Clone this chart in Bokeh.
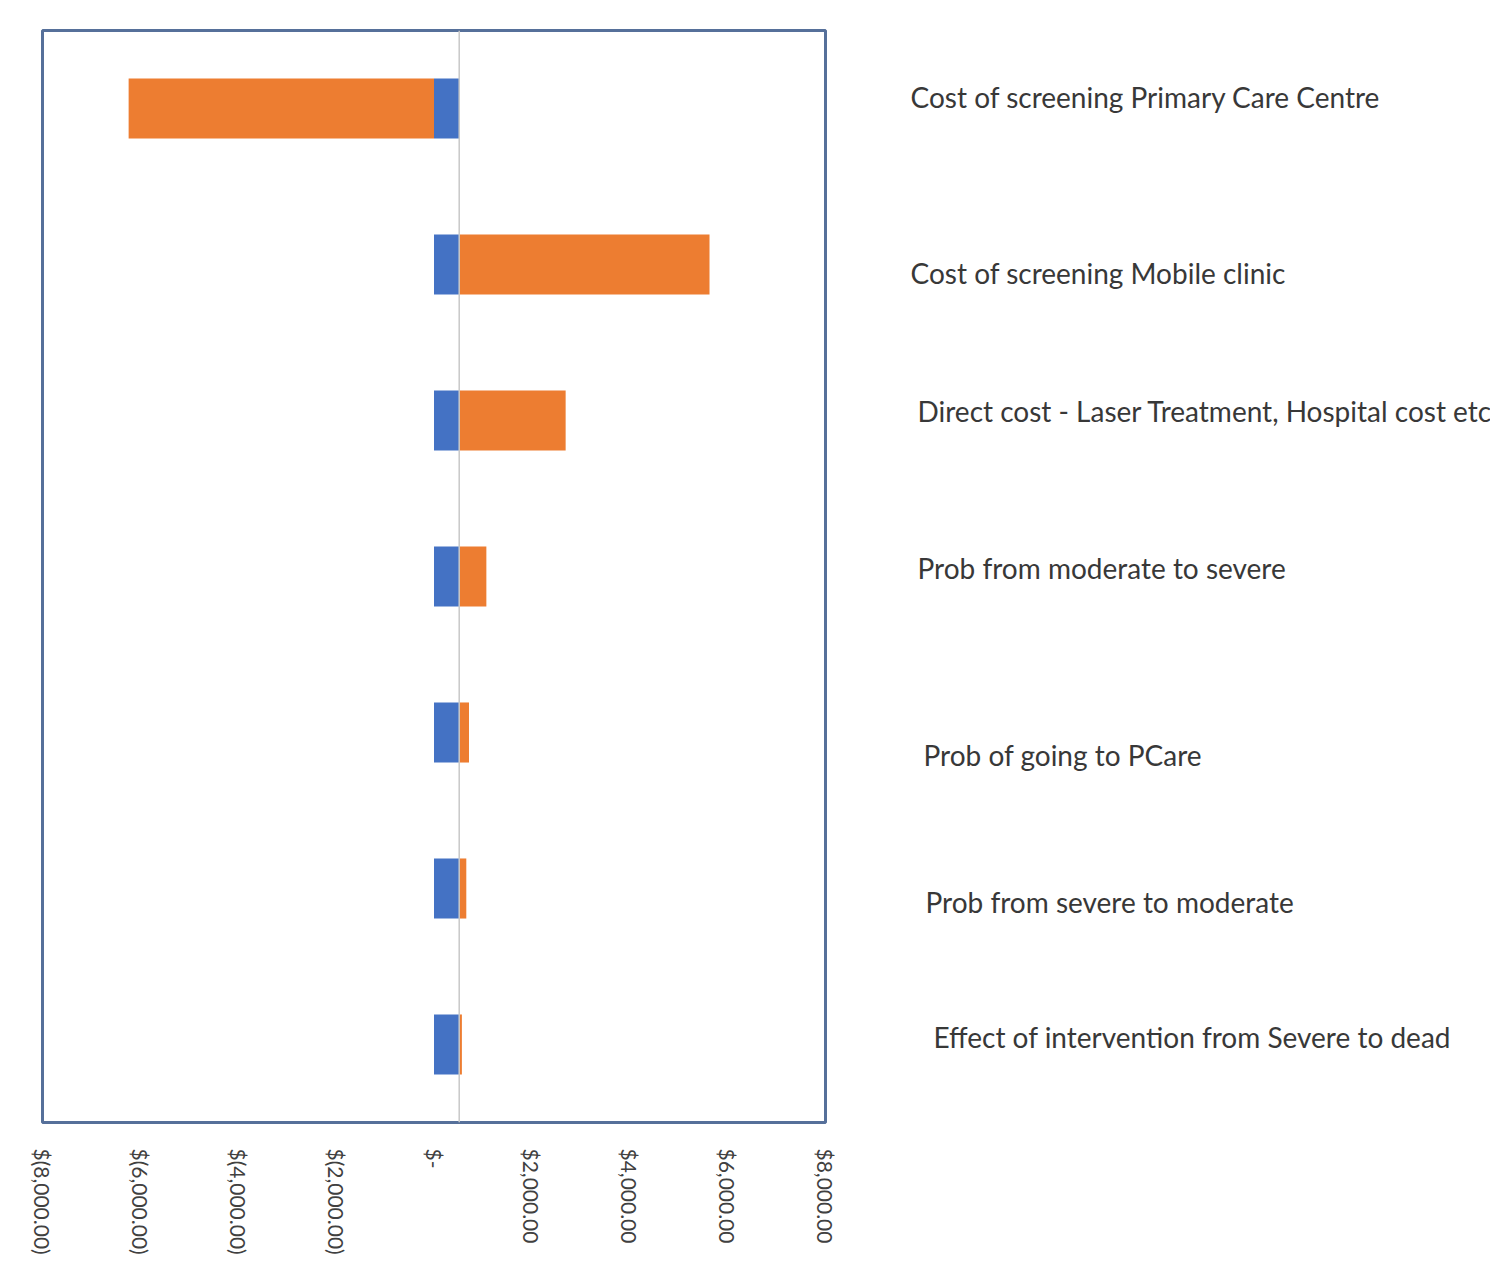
import math
from bokeh.plotting import figure
from bokeh.models import Range1d, FixedTicker, Span, ColumnDataSource
from bokeh.layouts import row
from bokeh.core.properties import value
from bokeh.embed import file_html
from bokeh.resources import INLINE

# ---------------- data ----------------
categories = [
    "Cost of screening Primary Care Centre",
    "Cost of screening Mobile clinic",
    "Direct cost - Laser Treatment, Hospital cost etc",
    "Prob from moderate to severe",
    "Prob of going to PCare",
    "Prob from severe to moderate",
    "Effect of intervention from Severe to dead",
]
base_value = 515
blue_low = [0, 0, 0, 0, 0, 0, 0]
blue_high = [515, 515, 515, 515, 515, 515, 515]
orange_low = [-6240, 515, 515, 515, 515, 515, 515]
orange_high = [0, 5630, 2690, 1070, 715, 660, 570]
tick_values = [-8000, -6000, -4000, -2000, 0, 2000, 4000, 6000, 8000]
tick_labels = ["$(8,000.00)", "$(6,000.00)", "$(4,000.00)", "$(2,000.00)", "$-",
               "$2,000.00", "$4,000.00", "$6,000.00", "$8,000.00"]

# ---------------- styles ----------------
label_x = [910, 910, 917, 917, 923, 925, 933]
label_dy = [-12, 8, -10, -9, 22, 13, -8]
BLUE = "#4472C4"
ORANGE = "#ED7D31"
FONT = "Lato"
H = 1258
FRAME_BOTTOM = 1122

idx = list(range(len(categories)))
yr = Range1d(len(categories) - 0.5, -0.5)

p = figure(width=848, height=H, x_range=Range1d(-8000, 8000), y_range=yr,
           output_backend="svg", toolbar_location=None, y_axis_location=None,
           min_border_left=42, min_border_right=23, min_border_top=30,
           min_border_bottom=H - FRAME_BOTTOM)
p.background_fill_color = "white"
p.border_fill_color = "white"
p.grid.visible = False
p.outline_line_color = "#56709A"
p.outline_line_width = 3

src = ColumnDataSource(dict(y=idx, bl=blue_low, bh=blue_high, ol=orange_low, oh=orange_high))
p.hbar(y="y", left="ol", right="oh", height=0.385, source=src, fill_color=ORANGE, line_color=None)
p.hbar(y="y", left="bl", right="bh", height=0.385, source=src, fill_color=BLUE, line_color=None)
p.add_layout(Span(location=base_value, dimension="height", line_color="#c8c8c8", line_width=1.5))

ax = p.xaxis[0]
ax.ticker = FixedTicker(ticks=tick_values)
ax.major_label_overrides = {v: t for v, t in zip(tick_values, tick_labels)}
ax.major_label_orientation = -math.pi / 2
ax.axis_line_color = None
ax.major_tick_line_color = None
ax.minor_tick_line_color = None
ax.major_tick_in = 0
ax.major_tick_out = 0
ax.major_label_standoff = 26
ax.major_label_text_font = FONT
ax.major_label_text_font_size = "21px"
ax.major_label_text_color = "#404040"

p2 = figure(width=642, height=H, x_range=Range1d(848, 1490), y_range=yr,
            output_backend="svg", toolbar_location=None,
            x_axis_location=None, y_axis_location=None,
            min_border_left=0, min_border_right=0, min_border_top=30,
            min_border_bottom=H - FRAME_BOTTOM)
p2.grid.visible = False
p2.outline_line_color = None
p2.background_fill_color = "white"
p2.border_fill_color = "white"
tsrc = ColumnDataSource(dict(x=label_x, y=idx, dy=label_dy, t=categories))
p2.text(x="x", y="y", text="t", y_offset="dy", source=tsrc,
        text_font=value(FONT), text_font_size="28px", text_color="#383838",
        text_baseline="middle", text_align="left")

layout = row(p, p2)
open("out.html", "w").write(file_html(layout, INLINE))
